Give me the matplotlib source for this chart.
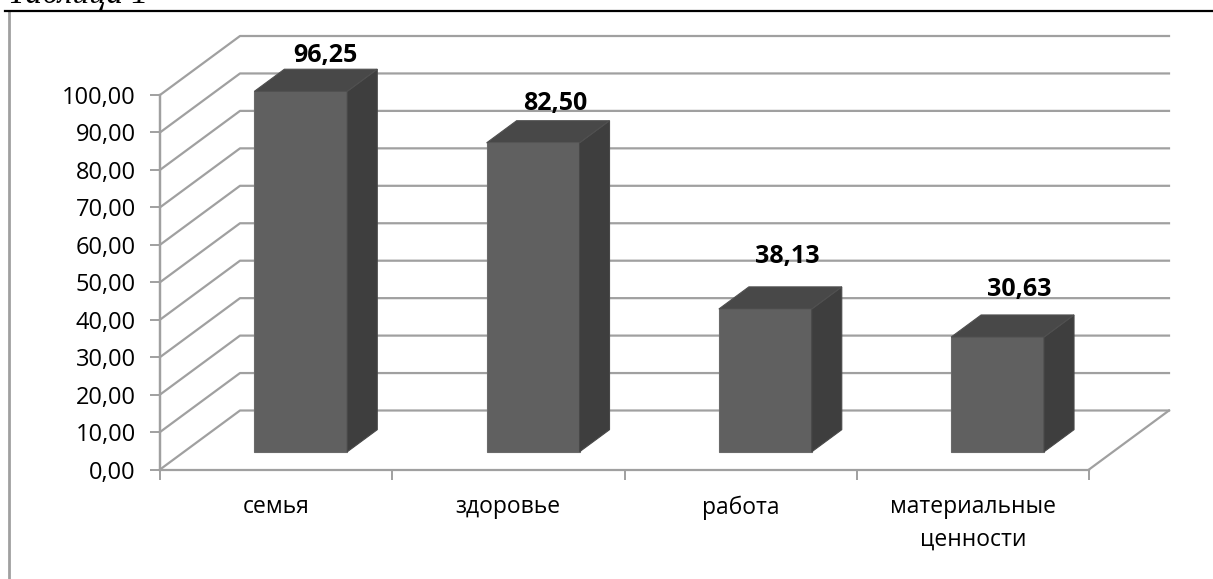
import matplotlib
matplotlib.use("Agg")
import matplotlib.pyplot as plt
from matplotlib.patches import Polygon

categories = ["семья", "здоровье", "работа", "материальные\nценности"]
values = [96.25, 82.50, 38.13, 30.63]
value_labels = ["96,25", "82,50", "38,13", "30,63"]
y_ticks = [0, 10, 20, 30, 40, 50, 60, 70, 80, 90, 100]
y_tick_labels = ["0,00", "10,00", "20,00", "30,00", "40,00", "50,00", "60,00", "70,00", "80,00", "90,00", "100,00"]
# how far each value label sits above its bar, in points
label_lift = [1, 3.5, 13, 9.5]
# sideways nudge of each value label, in points
label_nudge = [2, 0.5, 0.5, 0]

W, H = 1213, 579
GRID = "#a0a0a0"

plt.rcParams["font.family"] = ["Open Sans", "DejaVu Sans"]
fig = plt.figure(figsize=(W / 100, H / 100), dpi=100)

# axes box is the front floor edge of the 3D chart
left, right, bottom, top = 160, 1089, 469.5, 95
ax = fig.add_axes([left / W, 1 - bottom / H, (right - left) / W, (bottom - top) / H])
ax.set_xlim(0, 4)
ax.set_ylim(0, 100)
ax.patch.set_visible(False)

# depth of the chart, in data units
dx = 80 / ((right - left) / 4)
dy = 59 / ((bottom - top) / 100)

# walls
for t in y_ticks:
    ax.plot([0, dx, 4 + dx], [t, t + dy, t + dy], color=GRID, lw=1.6, clip_on=False, zorder=1)
ax.plot([0, 0], [0, 100], color=GRID, lw=1.6, clip_on=False, zorder=1)
ax.plot([4, 4 + dx], [0, dy], color=GRID, lw=1.6, clip_on=False, zorder=1)

# bars
start = 0.3
depth = 0.375
half = 0.2
shift = 0.003
for i, v in enumerate(values):
    x0 = i + 0.5 - half + start * dx + shift
    x1 = i + 0.5 + half + start * dx + shift
    y0 = start * dy
    y1 = y0 + v
    ox, oy = depth * dx, depth * dy
    ax.add_patch(Polygon([(x0, y0), (x1, y0), (x1, y1), (x0, y1)], fc="#606060", ec="#6a6a6a", lw=0.8, clip_on=False, zorder=3))
    ax.add_patch(Polygon([(x1, y0), (x1 + ox, y0 + oy), (x1 + ox, y1 + oy), (x1, y1)], fc="#3e3e3e", ec="#484848", lw=0.8, clip_on=False, zorder=3))
    ax.add_patch(Polygon([(x0, y1), (x1, y1), (x1 + ox, y1 + oy), (x0 + ox, y1 + oy)], fc="#484848", ec="#505050", lw=0.8, clip_on=False, zorder=3))
    ax.annotate(value_labels[i], (i + 0.5 + start * dx + 0.095, y1 + oy), xytext=(label_nudge[i], label_lift[i]),
                textcoords="offset points", ha="center", va="bottom", annotation_clip=False,
                fontsize=18, fontweight="bold", color="black", zorder=4)

for s in ["top", "right"]:
    ax.spines[s].set_visible(False)
for s in ["left", "bottom"]:
    ax.spines[s].set_color(GRID)
    ax.spines[s].set_linewidth(1.6)

ax.set_xticks([0, 1, 2, 3, 4])
ax.set_xticklabels([])
ax.set_xticks([0.5, 1.5, 2.5, 3.5], minor=True)
ax.set_xticklabels(categories, minor=True, fontsize=16.5, linespacing=1.45, va="top")
ax.tick_params(axis="x", which="major", length=7, width=1.4, color=GRID)
ax.tick_params(axis="x", which="minor", length=0, pad=18.5)
ax.set_yticks(y_ticks)
ax.set_yticklabels(y_tick_labels, fontsize=17)
ax.tick_params(axis="y", length=7, width=1.4, color=GRID, pad=10.5)

# outer chart border and cut-off caption above it
fig.add_artist(plt.Line2D([9 / W, 9 / W], [0, 1 - 11 / H], color=GRID, lw=2))
fig.add_artist(plt.Line2D([5 / W, 1], [1 - 11 / H, 1 - 11 / H], color="black", lw=1.6))
fig.text(8 / W, 1 - 2.5 / H, "Таблица 1", family=["Liberation Serif", "DejaVu Serif"], style="italic",
         fontsize=24, va="baseline", ha="left")

fig.savefig("out.png", dpi=100)
